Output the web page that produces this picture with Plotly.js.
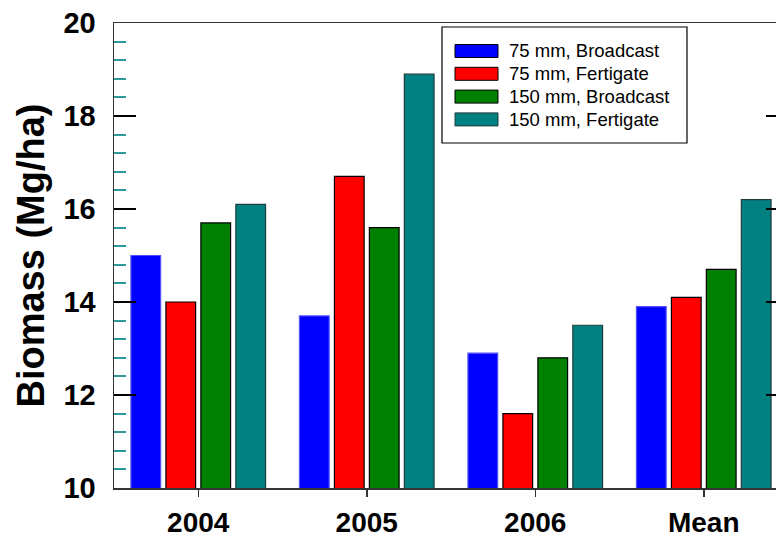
<!DOCTYPE html>
<html>
<head>
<meta charset="utf-8">
<script src="https://cdn.plot.ly/plotly-3.0.1.min.js"></script>
<style>
html, body { margin: 0; padding: 0; overflow: hidden; background: #fff; width: 776px; height: 539px; }
#chart { width: 800px; height: 539px; }
</style>
</head>
<body>
<div id="chart"></div>
<script>
// ---- data ----
const categories = ['2004', '2005', '2006', 'Mean'];
const seriesNames = ['75 mm, Broadcast', '75 mm, Fertigate', '150 mm, Broadcast', '150 mm, Fertigate'];
const broadcast75 = [15.0, 13.7, 12.9, 13.9];
const fertigate75 = [14.0, 16.7, 11.6, 14.1];
const broadcast150 = [15.7, 15.6, 12.8, 14.7];
const fertigate150 = [16.1, 18.9, 13.5, 16.2];
const yTicks = [10, 12, 14, 16, 18, 20];

// ---- styles ----
const fills = ['#0000ff', '#ff0000', '#008000', '#008080'];
const edges = ['#5050ff', '#000000', '#000000', '#1e3c3c'];
const seriesValues = [broadcast75, fertigate75, broadcast150, fertigate150];
const FONT = 'Arial, "Liberation Sans", sans-serif';

const W = 800, H = 539;
const M = { l: 114, r: 12, t: 23, b: 51 };
const pw = W - M.l - M.r, ph = H - M.t - M.b;
const px = x => (x - M.l) / pw;
const py = y => 1 - (y - M.t) / ph;

const traces = seriesNames.map((name, i) => ({
  type: 'bar',
  name: name,
  x: categories,
  y: seriesValues[i],
  marker: { color: fills[i], line: { color: edges[i], width: 1.2 } },
  showlegend: false,
  hoverinfo: 'x+y+name'
}));

// custom legend (box, swatches, labels)
const shapes = [{
  type: 'rect', xref: 'paper', yref: 'paper', layer: 'above',
  x0: px(442), x1: px(687), y0: py(27), y1: py(143),
  line: { color: '#000', width: 1.2 }, fillcolor: '#fff'
}];
const annotations = [];
const rowY0 = 51, rowStep = 22.8;
seriesNames.forEach((name, i) => {
  const cy = rowY0 + i * rowStep;
  shapes.push({
    type: 'rect', xref: 'paper', yref: 'paper', layer: 'above',
    x0: px(455), x1: px(498), y0: py(cy + 6.5), y1: py(cy - 6.5),
    line: { color: edges[i] === '#5050ff' ? '#000' : edges[i], width: 1 }, fillcolor: fills[i]
  });
  annotations.push({
    xref: 'paper', yref: 'paper', x: px(507), y: py(cy),
    xanchor: 'left', yanchor: 'middle', showarrow: false,
    text: name, font: { family: FONT, size: 18.5, color: '#000' }
  });
});

const layout = {
  width: W, height: H,
  margin: M,
  paper_bgcolor: '#fff', plot_bgcolor: '#fff',
  font: { family: FONT, color: '#000' },
  barmode: 'group',
  bargap: 0.17,
  bargroupgap: 0.15,
  showlegend: false,
  xaxis: {
    type: 'category',
    range: [-0.5, 3.5],
    showgrid: false, zeroline: false,
    showline: true, linecolor: '#333', linewidth: 1.5, mirror: true,
    ticks: 'outside', ticklen: 7, tickwidth: 1.5, tickcolor: '#333',
    tickfont: { family: FONT, size: 28, color: '#000', weight: 'bold' },
    ticklabelstandoff: 2
  },
  yaxis: {
    range: [10, 20],
    tickvals: yTicks,
    ticktext: yTicks.map(String),
    showgrid: false, zeroline: false,
    showline: true, linecolor: '#333', linewidth: 1.5, mirror: 'ticks',
    ticks: 'inside', ticklen: 22, tickwidth: 2, tickcolor: '#000',
    tickfont: { family: FONT, size: 29, color: '#000', weight: 'bold' },
    ticklabelstandoff: 11,
    minor: { dtick: 0.4, tick0: 10, ticks: 'inside', ticklen: 12, tickwidth: 2, tickcolor: '#2a9a9a' },
    title: { text: 'Biomass (Mg/ha)', font: { family: FONT, size: 38, color: '#000', weight: 'bold' }, standoff: 7 }
  },
  shapes: shapes,
  annotations: annotations
};

Plotly.newPlot('chart', traces, layout, { displayModeBar: false, staticPlot: true });
</script>
</body>
</html>
